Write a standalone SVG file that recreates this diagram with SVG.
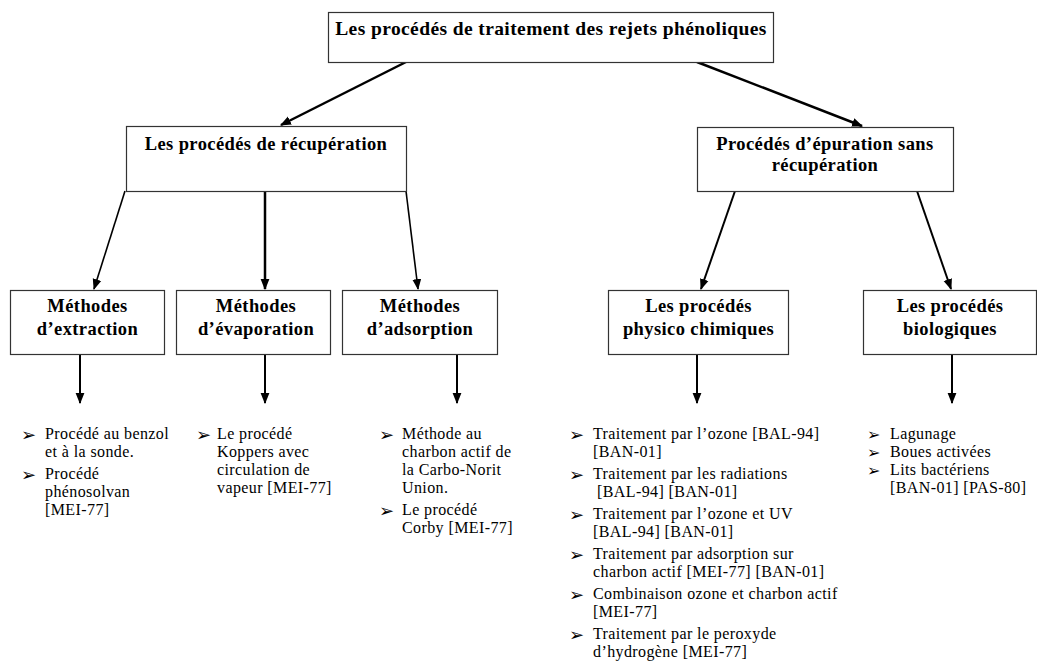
<svg xmlns="http://www.w3.org/2000/svg" width="1037" height="665" viewBox="0 0 1037 665">
<defs>
<marker id="ah" markerUnits="userSpaceOnUse" markerWidth="11" markerHeight="11" viewBox="0 0 10 10" refX="9" refY="5" orient="auto">
<path d="M0,1 L10,5 L0,9 Z" fill="#000"/>
</marker>
</defs>
<style>
.box{fill:#fff;stroke:#333;stroke-width:1.2}
.bt{font-family:"Liberation Serif","Times New Roman",serif;font-weight:bold;font-size:18.5px;fill:#000;text-anchor:middle;letter-spacing:0.4px}
.tt{font-size:19.5px}
.lt{font-family:"Liberation Serif","Times New Roman",serif;font-size:16px;fill:#000;letter-spacing:0.4px}
.bu{font-family:"DejaVu Sans",sans-serif;font-size:18px;fill:#000}
.bs{font-size:16px}
.c{stroke:#000;fill:none;marker-end:url(#ah)}
</style>
<rect width="1037" height="665" fill="#fff"/>
<g id="connectors">
<line class="c" x1="406" y1="62" x2="281" y2="125" stroke-width="2.5"/>
<line class="c" x1="697" y1="62" x2="862" y2="126" stroke-width="2.5"/>
<line class="c" x1="125" y1="191" x2="94" y2="289" stroke-width="1.6"/>
<line class="c" x1="265" y1="191" x2="265" y2="289" stroke-width="2.5"/>
<line class="c" x1="406" y1="191" x2="418" y2="289" stroke-width="1.6"/>
<line class="c" x1="735" y1="191" x2="701" y2="289" stroke-width="2"/>
<line class="c" x1="917" y1="191" x2="951" y2="289" stroke-width="2"/>
<line class="c" x1="80" y1="354" x2="80" y2="403" stroke-width="2"/>
<line class="c" x1="265" y1="354" x2="265" y2="403" stroke-width="2"/>
<line class="c" x1="457" y1="354" x2="457" y2="403" stroke-width="2"/>
<line class="c" x1="697" y1="354" x2="697" y2="403" stroke-width="2"/>
<line class="c" x1="952" y1="354" x2="952" y2="403" stroke-width="2"/>
</g>
<g id="root">
<rect class="box" x="328.5" y="12.5" width="445" height="50"/>
<text class="bt tt" x="551" y="35">Les procédés de traitement des rejets phénoliques</text>
</g>
<g id="recuperation">
<rect class="box" x="126.5" y="126.5" width="280" height="65"/>
<text class="bt" x="266" y="150">Les procédés de récupération</text>
</g>
<g id="epuration">
<rect class="box" x="697.5" y="127.5" width="256" height="64"/>
<text class="bt" x="825" y="150">Procédés d’épuration sans</text>
<text class="bt" x="825" y="171">récupération</text>
</g>
<g id="extraction">
<rect class="box" x="10.5" y="290.5" width="154" height="64"/>
<text class="bt" x="87.5" y="312">Méthodes</text>
<text class="bt" x="87.5" y="335">d’extraction</text>
</g>
<g id="evaporation">
<rect class="box" x="176.5" y="290.5" width="154" height="64"/>
<text class="bt" x="256" y="312">Méthodes</text>
<text class="bt" x="256" y="335">d’évaporation</text>
</g>
<g id="adsorption">
<rect class="box" x="342.5" y="290.5" width="155" height="64"/>
<text class="bt" x="420" y="312">Méthodes</text>
<text class="bt" x="420" y="335">d’adsorption</text>
</g>
<g id="physico">
<rect class="box" x="608.5" y="290.5" width="180" height="64"/>
<text class="bt" x="698.5" y="312">Les procédés</text>
<text class="bt" x="698.5" y="335">physico chimiques</text>
</g>
<g id="biologiques">
<rect class="box" x="863.5" y="290.5" width="173" height="64"/>
<text class="bt" x="950" y="312">Les procédés</text>
<text class="bt" x="950" y="335">biologiques</text>
</g>
<g id="list-extraction">
<text class="bu" x="21" y="441">➢</text>
<text class="lt" x="45" y="439">Procédé au benzol</text>
<text class="lt" x="45" y="457">et à la sonde.</text>
<text class="bu" x="21" y="481">➢</text>
<text class="lt" x="45" y="479">Procédé</text>
<text class="lt" x="45" y="497">phénosolvan</text>
<text class="lt" x="45" y="515">[MEI-77]</text>
</g>
<g id="list-evaporation">
<text class="bu" x="196" y="441">➢</text>
<text class="lt" x="217" y="439">Le procédé</text>
<text class="lt" x="217" y="457">Koppers avec</text>
<text class="lt" x="217" y="475">circulation de</text>
<text class="lt" x="217" y="493">vapeur [MEI-77]</text>
</g>
<g id="list-adsorption">
<text class="bu" x="379" y="441">➢</text>
<text class="lt" x="402" y="439">Méthode au</text>
<text class="lt" x="402" y="457">charbon actif de</text>
<text class="lt" x="402" y="475">la Carbo-Norit</text>
<text class="lt" x="402" y="493">Union.</text>
<text class="bu" x="379" y="517">➢</text>
<text class="lt" x="402" y="515">Le procédé</text>
<text class="lt" x="402" y="533">Corby [MEI-77]</text>
</g>
<g id="list-physico">
<text class="bu" x="569" y="441">➢</text>
<text class="lt" x="593" y="439">Traitement par l’ozone [BAL-94]</text>
<text class="lt" x="593" y="457">[BAN-01]</text>
<text class="bu" x="569" y="481">➢</text>
<text class="lt" x="593" y="479">Traitement par les radiations</text>
<text class="lt" x="597" y="497">[BAL-94] [BAN-01]</text>
<text class="bu" x="569" y="521">➢</text>
<text class="lt" x="593" y="519">Traitement par l’ozone et UV</text>
<text class="lt" x="593" y="537">[BAL-94] [BAN-01]</text>
<text class="bu" x="569" y="561">➢</text>
<text class="lt" x="593" y="559">Traitement par adsorption sur</text>
<text class="lt" x="593" y="577">charbon actif [MEI-77] [BAN-01]</text>
<text class="bu" x="569" y="601">➢</text>
<text class="lt" x="593" y="599">Combinaison ozone et charbon actif</text>
<text class="lt" x="593" y="617">[MEI-77]</text>
<text class="bu" x="569" y="641">➢</text>
<text class="lt" x="593" y="639">Traitement par le peroxyde</text>
<text class="lt" x="593" y="657">d’hydrogène [MEI-77]</text>
</g>
<g id="list-biologiques">
<text class="bu bs" x="867" y="440">➢</text>
<text class="lt" x="890" y="439">Lagunage</text>
<text class="bu bs" x="867" y="458">➢</text>
<text class="lt" x="890" y="457">Boues activées</text>
<text class="bu bs" x="867" y="476">➢</text>
<text class="lt" x="890" y="475">Lits bactériens</text>
<text class="lt" x="890" y="493">[BAN-01] [PAS-80]</text>
</g>
</svg>
